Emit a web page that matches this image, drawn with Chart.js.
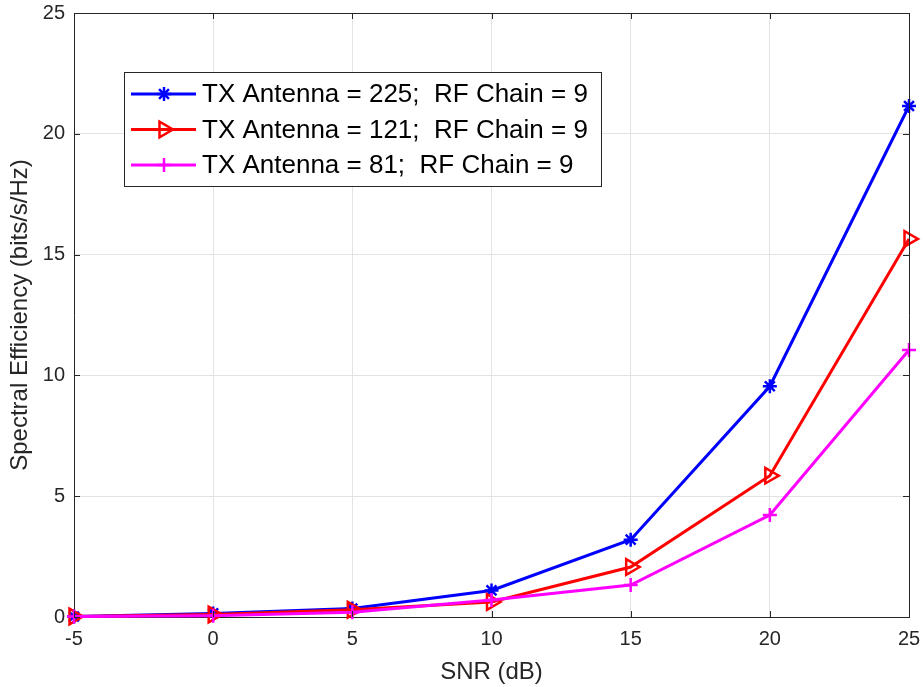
<!DOCTYPE html>
<html>
<head>
<meta charset="utf-8">
<script src="https://cdn.jsdelivr.net/npm/chart.js@4"></script>
<style>
  html, body { margin: 0; padding: 0; background: #fff; }
  #wrap { width: 923px; height: 687px; }
</style>
</head>
<body>
<div id="wrap"><canvas id="se"></canvas></div>
<script>
const snr = [-5, 0, 5, 10, 15, 20, 25];
const tx225 = [0.02, 0.15, 0.35, 1.1, 3.2, 9.55, 21.15];
const tx121 = [0.02, 0.1, 0.3, 0.62, 2.07, 5.85, 15.65];
const tx81 = [0.02, 0.05, 0.2, 0.7, 1.32, 4.22, 11.05];
const seriesLabels = [
  'TX Antenna = 225;  RF Chain = 9',
  'TX Antenna = 121;  RF Chain = 9',
  'TX Antenna = 81;  RF Chain = 9'
];

const axisColor = '#262626';
const fontFamily = "'Liberation Sans', Arial, sans-serif";

function pts(ys) {
  return snr.map((x, i) => ({ x: x, y: ys[i] }));
}

// box around the plot area, inward tick marks and the legend panel
const boxPlugin = {
  id: 'matlabBox',
  afterDatasetsDraw(chart) {
    const ctx = chart.ctx;
    const a = chart.chartArea;
    const xs = chart.scales.x, ys = chart.scales.y;
    ctx.save();
    ctx.strokeStyle = axisColor;
    ctx.lineWidth = 1;
    ctx.beginPath();
    ctx.moveTo(a.left + 0.5, a.top + 0.5);
    ctx.lineTo(a.right + 0.5, a.top + 0.5);
    ctx.lineTo(a.right + 0.5, a.bottom + 0.5);
    ctx.stroke();
    const t = 6;
    ctx.beginPath();
    xs.ticks.forEach(tk => {
      const px = Math.round(xs.getPixelForValue(tk.value)) + 0.5;
      ctx.moveTo(px, a.bottom); ctx.lineTo(px, a.bottom - t);
      ctx.moveTo(px, a.top); ctx.lineTo(px, a.top + t);
    });
    ys.ticks.forEach(tk => {
      const py = Math.round(ys.getPixelForValue(tk.value)) + 0.5;
      ctx.moveTo(a.left, py); ctx.lineTo(a.left + t, py);
      ctx.moveTo(a.right, py); ctx.lineTo(a.right - t, py);
    });
    ctx.stroke();

    // legend
    const lx = 124, ly = 72, lw = 477, lh = 114;
    ctx.fillStyle = '#fff';
    ctx.fillRect(lx, ly, lw, lh);
    ctx.strokeStyle = axisColor;
    ctx.strokeRect(lx + 0.5, ly + 0.5, lw, lh);
    ctx.font = '26px ' + fontFamily;
    ctx.textBaseline = 'middle';
    chart.data.datasets.forEach((ds, i) => {
      const y = ly + 22 + i * 35.5;
      ctx.strokeStyle = ds.borderColor;
      ctx.lineWidth = 3;
      ctx.beginPath();
      ctx.moveTo(lx + 7, y); ctx.lineTo(lx + 72, y);
      ctx.stroke();
      ctx.fillStyle = ds.pointBackgroundColor;
      ctx.strokeStyle = ds.borderColor;
      ctx.lineWidth = ds.pointBorderWidth;
      Chart.helpers.drawPoint(ctx, {
        pointStyle: ds.pointStyle,
        rotation: ds.pointRotation || 0,
        radius: ds.pointRadius,
        borderWidth: ds.pointBorderWidth
      }, lx + 40, y);
      ctx.fillStyle = '#000';
      ctx.fillText(ds.label, lx + 78, y + 1);
    });
    ctx.restore();
  }
};

new Chart(document.getElementById('se'), {
  type: 'line',
  data: {
    datasets: [
      {
        label: seriesLabels[0],
        data: pts(tx225),
        borderColor: '#0000ff',
        pointBackgroundColor: '#0000ff',
        pointBorderColor: '#0000ff',
        pointStyle: 'star',
        pointRadius: 7,
        pointBorderWidth: 2.5,
        borderWidth: 3,
        clip: false,
        order: 2
      },
      {
        label: seriesLabels[1],
        data: pts(tx121),
        borderColor: '#ff0000',
        pointBackgroundColor: 'rgba(0,0,0,0)',
        pointBorderColor: '#ff0000',
        pointStyle: 'triangle',
        pointRotation: 90,
        pointRadius: 9,
        pointBorderWidth: 2.5,
        borderWidth: 3,
        clip: false,
        order: 1
      },
      {
        label: seriesLabels[2],
        data: pts(tx81),
        borderColor: '#ff00ff',
        pointBackgroundColor: '#ff00ff',
        pointBorderColor: '#ff00ff',
        pointStyle: 'cross',
        pointRadius: 7,
        pointBorderWidth: 2.5,
        borderWidth: 3,
        clip: false,
        order: 0
      }
    ]
  },
  options: {
    responsive: true,
    maintainAspectRatio: false,
    animation: false,
    events: [],
    layout: { padding: { top: 13, right: 14, left: 0, bottom: 0 } },
    plugins: {
      legend: { display: false },
      tooltip: { enabled: false }
    },
    elements: { line: { tension: 0 } },
    scales: {
      x: {
        type: 'linear',
        min: -5,
        max: 25,
        afterFit(scale) {
          scale.height = 70;
          scale.paddingLeft = 0;
          scale.paddingRight = 0;
        },
        ticks: {
          stepSize: 5,
          color: axisColor,
          padding: 10,
          font: { family: fontFamily, size: 20 }
        },
        grid: { color: '#e3e3e3', drawTicks: false },
        border: { color: axisColor, width: 1 },
        title: {
          display: true,
          text: 'SNR (dB)',
          color: axisColor,
          padding: { top: 0, bottom: 0 },
          font: { family: fontFamily, size: 24 }
        }
      },
      y: {
        min: 0,
        max: 25,
        afterFit(scale) {
          scale.width = 74;
          scale.paddingTop = 0;
          scale.paddingBottom = 0;
        },
        ticks: {
          stepSize: 5,
          color: axisColor,
          padding: 9,
          font: { family: fontFamily, size: 20 }
        },
        grid: { color: '#e3e3e3', drawTicks: false },
        border: { color: axisColor, width: 1 },
        title: {
          display: true,
          text: 'Spectral Efficiency (bits/s/Hz)',
          color: axisColor,
          padding: { top: 6, bottom: 0 },
          font: { family: fontFamily, size: 24 }
        }
      }
    }
  },
  plugins: [boxPlugin]
});
</script>
</body>
</html>
